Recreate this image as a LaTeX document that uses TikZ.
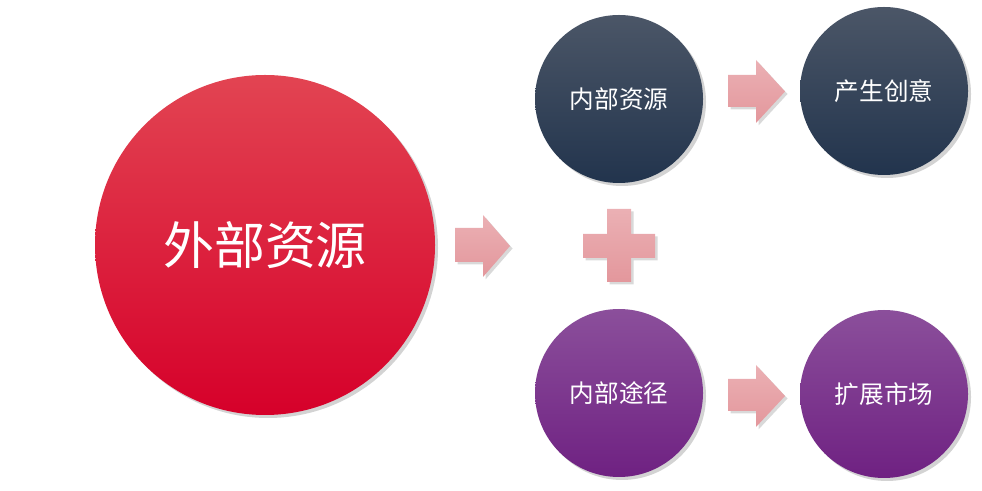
\documentclass[tikz,border=0pt]{standalone}
\usepackage{fontspec}
\newfontfamily\cjk{Noto Sans CJK SC}
\usepackage{tikz}
\usetikzlibrary{positioning,shadows,calc}
\definecolor{redtop}   {HTML}{E24452}
\definecolor{redbot}   {HTML}{D6002A}
\definecolor{navytop}  {HTML}{4B5667}
\definecolor{navybot}  {HTML}{22344D}
\definecolor{plumtop}  {HTML}{8B4F9B}
\definecolor{plumbot}  {HTML}{6F2182}
\definecolor{pinktop}  {HTML}{EBB0B4}
\definecolor{pinkbot}  {HTML}{E3979C}
\tikzset{
  % --- circles
  disc/.style  = {circle, inner sep=0pt, text=white, font=\cjk,
                  drop shadow={opacity=0.35, shadow xshift=0.06cm, shadow yshift=-0.06cm}},
  big/.style   = {disc, minimum size=6.8cm, top color=redtop, bottom color=redbot,
                  font=\cjk\fontsize{29}{34}\selectfont},
  navy/.style  = {disc, minimum size=3.36cm, top color=navytop, bottom color=navybot,
                  font=\cjk\fontsize{14}{17}\selectfont},
  plum/.style  = {disc, minimum size=3.36cm, top color=plumtop, bottom color=plumbot,
                  font=\cjk\fontsize{14}{17}\selectfont},
  % --- block shapes
  blk/.style   = {top color=pinktop, bottom color=pinkbot, draw=none,
                  drop shadow={opacity=0.3, shadow xshift=0.05cm, shadow yshift=-0.05cm}},
}
\begin{document}
\begin{tikzpicture}
  \useasboundingbox (0,0) rectangle (19.64,9.82);
  \node[big]  (ext)  at (5.3,4.92)   {外部资源};
  \node[navy] (res)  at (12.38,7.84) {内部资源};
  \node[navy] (idea) at (17.68,8.0)  {产生创意};
  \node[plum] (path) at (12.38,1.96) {内部途径};
  \node[plum] (mkt)  at (17.68,1.94) {扩展市场};
  % arrows
  \path[blk] (9.1,4.58) -- (9.66,4.58) -- (9.66,4.28) -- (10.2,4.9)
             -- (9.66,5.52) -- (9.66,5.26) -- (9.1,5.26) -- cycle;
  \path[blk] (14.56,7.68) -- (15.12,7.68) -- (15.12,7.36) -- (15.7,7.99)
             -- (15.12,8.62) -- (15.12,8.32) -- (14.56,8.32) -- cycle;
  \path[blk] (14.56,1.6) -- (15.12,1.6) -- (15.12,1.28) -- (15.7,1.9)
             -- (15.12,2.52) -- (15.12,2.24) -- (14.56,2.24) -- cycle;
  % plus
  \path[blk] (12.14,4.18) -- (12.62,4.18) -- (12.62,4.66) -- (13.1,4.66)
             -- (13.1,5.14) -- (12.62,5.14) -- (12.62,5.64) -- (12.14,5.64)
             -- (12.14,5.14) -- (11.66,5.14) -- (11.66,4.66) -- (12.14,4.66) -- cycle;
\end{tikzpicture}
\end{document}
